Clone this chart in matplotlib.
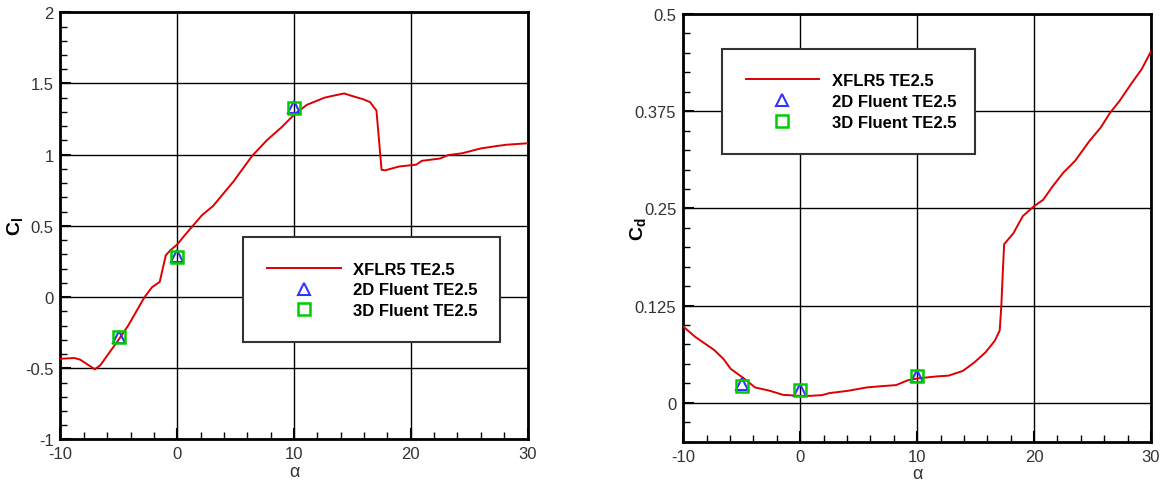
import matplotlib
matplotlib.use("Agg")
import matplotlib.pyplot as plt
from matplotlib.ticker import MultipleLocator, FuncFormatter

plt.rcParams['font.family'] = ['Liberation Sans', 'DejaVu Sans']
plt.rcParams['mathtext.fontset'] = 'custom'
plt.rcParams['mathtext.rm'] = 'Liberation Sans'
plt.rcParams['mathtext.bf'] = 'Liberation Sans:bold'
plt.rcParams['axes.unicode_minus'] = False

# XFLR5 polar, TE2.5 section
alpha_cl = [-10, -8.8, -8.3, -7.06, -6.6, -5.0, -4.2, -2.8, -2.15, -1.5, -0.98,
            -0.57, 0.0, 0.7, 2.12, 3.07, 4.8, 6.4, 7.66, 8.9, 10.06, 11.1, 12.6,
            13.35, 14.3, 14.9, 15.9, 16.5, 17.06, 17.5, 17.8, 19.0, 20.47, 20.95,
            22.5, 23.2, 24.4, 26.0, 27.3, 28.2, 30.0]
cl_xflr5 = [-0.433, -0.428, -0.44, -0.507, -0.48, -0.297, -0.20, 0.0, 0.07, 0.107,
            0.294, 0.33, 0.37, 0.44, 0.575, 0.64, 0.81, 0.99, 1.10, 1.19, 1.285,
            1.35, 1.40, 1.414, 1.43, 1.414, 1.39, 1.37, 1.31, 0.894, 0.89, 0.917,
            0.93, 0.957, 0.973, 0.997, 1.01, 1.044, 1.06, 1.07, 1.08]

alpha_cd = [-10, -8.95, -7.36, -6.57, -5.93, -4.82, -3.86, -2.6, -1.48, -0.05, 0.9,
            1.86, 2.5, 4.1, 5.7, 6.6, 8.2, 9.2, 10.1, 11.7, 12.7, 13.9, 14.9, 15.85,
            16.65, 17.06, 17.2, 17.3, 17.44, 18.23, 19.03, 19.98, 20.77, 21.57,
            22.5, 23.5, 24.75, 25.7, 26.5, 27.3, 28.25, 29.2, 30.0]
cd_xflr5 = [0.098, 0.0845, 0.068, 0.0565, 0.0435, 0.0315, 0.0198, 0.0155, 0.0103,
            0.009, 0.009, 0.0099, 0.0125, 0.0155, 0.0198, 0.021, 0.0228, 0.029,
            0.0315, 0.034, 0.035, 0.041, 0.052, 0.065, 0.080, 0.093, 0.125, 0.16,
            0.204, 0.218, 0.240, 0.2526, 0.261, 0.278, 0.296, 0.311, 0.337, 0.354,
            0.373, 0.388, 0.409, 0.429, 0.452]

# Fluent results
alpha_cfd = [-5, 0, 10]
cl_2d = [-0.28, 0.285, 1.335]
cl_3d = [-0.28, 0.282, 1.327]
cd_2d = [0.024, 0.017, 0.035]
cd_3d = [0.022, 0.0164, 0.035]

RED = '#dd0000'
BLUE = '#3333ff'
GREEN = '#00cc00'


def fmt(v, pos):
    return '%g' % round(v, 4)


def style_axes(ax, ymin, ymax, ymajor, yminor):
    ax.set_xlim(-10, 30)
    ax.set_ylim(ymin, ymax)
    ax.xaxis.set_major_locator(MultipleLocator(10))
    ax.xaxis.set_minor_locator(MultipleLocator(2))
    ax.yaxis.set_major_locator(MultipleLocator(ymajor))
    ax.yaxis.set_minor_locator(MultipleLocator(yminor))
    ax.xaxis.set_major_formatter(FuncFormatter(fmt))
    ax.yaxis.set_major_formatter(FuncFormatter(fmt))
    ax.grid(True, which='major', color='black', linewidth=1.0)
    ax.tick_params(which='both', direction='in', top=False, right=False,
                   labelsize=12, labelcolor='#333333', pad=5)
    ax.tick_params(which='major', length=8, width=1.5)
    ax.tick_params(which='minor', length=5, width=1.0)
    for side in ['bottom', 'right', 'top', 'left']:
        ax.spines[side].set_linewidth(2.0)
    ax.set_xlabel('α', fontsize=13, color='#333333', labelpad=1)


def draw(ax, x, y, y2d, y3d):
    ax.plot(x, y, color=RED, linewidth=1.4, label='XFLR5 TE2.5', zorder=3)
    ax.plot(alpha_cfd, y2d, linestyle='none', marker='^', markersize=8,
            markerfacecolor='none', markeredgecolor=BLUE, markeredgewidth=1.5,
            label='2D Fluent TE2.5', zorder=4)
    ax.plot(alpha_cfd, y3d, linestyle='none', marker='s', markersize=8,
            markerfacecolor='none', markeredgecolor=GREEN, markeredgewidth=1.8,
            label='3D Fluent TE2.5', zorder=4)


def add_legend(ax, x0, y1, w):
    leg = ax.legend(loc='upper left', bbox_to_anchor=(x0, y1, w, 0.0), mode='expand',
                    numpoints=1, handlelength=4.4, handletextpad=0.75,
                    labelspacing=0.35, borderpad=1.45, borderaxespad=0,
                    fancybox=False, framealpha=1,
                    prop={'weight': 'bold', 'size': 12})
    leg.get_frame().set_edgecolor('#333333')
    leg.get_frame().set_linewidth(1.5)
    leg.set_zorder(10)


fig = plt.figure(figsize=(11.63, 4.85), dpi=100)

ax1 = fig.add_axes([0.0520, 0.0918, 0.4016, 0.8808])
style_axes(ax1, -1, 2, 0.5, 0.1)
draw(ax1, alpha_cl, cl_xflr5, cl_2d, cl_3d)
ax1.set_ylabel(r'$\mathbf{C}_\mathbf{l}$', fontsize=14)
ax1.yaxis.set_label_coords(-0.074, 0.5)
add_legend(ax1, 0.391, 0.473, 0.549)

ax2 = fig.add_axes([0.5875, 0.0872, 0.4022, 0.8819])
style_axes(ax2, -0.05, 0.5, 0.125, 0.025)
draw(ax2, alpha_cd, cd_xflr5, cd_2d, cd_3d)
ax2.set_ylabel(r'$\mathbf{C}_\mathbf{d}$', fontsize=14)
ax2.yaxis.set_label_coords(-0.074, 0.5)
add_legend(ax2, 0.082, 0.918, 0.542)

fig.savefig('out.png', dpi=100)
